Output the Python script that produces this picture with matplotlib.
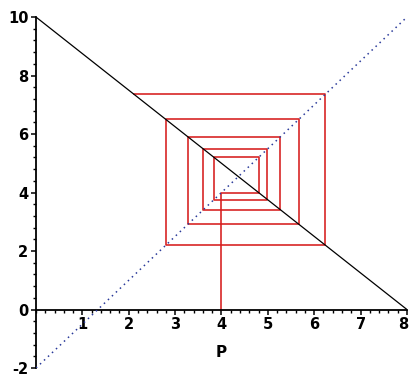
import matplotlib
matplotlib.use("Agg")
import matplotlib.pyplot as plt
import matplotlib.transforms as mtransforms
from matplotlib.ticker import MultipleLocator, FixedLocator

plt.rcParams["axes.unicode_minus"] = False

# Demand and supply lines over the price range
precio = [0, 8]
demanda = [10, 0]
oferta = [-2, 10]

# Cobweb iterations: prices and quantities at each step
precios_cw = [4.0, 4.8, 3.84, 4.992, 3.6096, 5.2685, 3.2778, 5.6666, 2.8001, 6.2399, 2.1121]
cantidades_cw = [4.0, 5.2, 3.76, 5.488, 3.4144, 5.9027, 2.9167, 6.4999, 2.2001, 7.3599]

# Build the staircase path: up to supply, across to demand, ...
xs = [precios_cw[0]]
ys = [0.0]
for i, q in enumerate(cantidades_cw):
    xs += [precios_cw[i], precios_cw[i + 1]]
    ys += [q, q]

fig = plt.figure(figsize=(4.09, 3.79), dpi=100)
ax = fig.add_axes([0.088, 0.029, 0.907, 0.926])

ax.plot(precio, demanda, color="black", lw=0.9, zorder=3)
ax.plot(precio, oferta, color="#2a3a9a", lw=1.1, linestyle=(0, (1, 2.6)), zorder=3)
ax.plot(xs, ys, color="#d82626", lw=1.2, zorder=2)

ax.set_xlim(0, 8)
ax.set_ylim(-2, 10)

# Axes crossing at the origin
ax.spines["left"].set_position(("data", 0))
ax.spines["bottom"].set_position(("data", 0))
ax.spines["top"].set_visible(False)
ax.spines["right"].set_visible(False)
for s in ("left", "bottom"):
    ax.spines[s].set_linewidth(1.3)

ax.xaxis.set_major_locator(FixedLocator([1, 2, 3, 4, 5, 6, 7, 8]))
ax.xaxis.set_minor_locator(MultipleLocator(0.2))
ax.yaxis.set_major_locator(FixedLocator([-2, 0, 2, 4, 6, 8, 10]))
ax.yaxis.set_minor_locator(MultipleLocator(0.4))
ax.tick_params(which="major", direction="out", length=3.5, width=1.1, labelsize=10.5, pad=2)
ax.tick_params(which="minor", direction="out", length=2.5, width=1.0)
for lab in ax.get_xticklabels() + ax.get_yticklabels():
    lab.set_fontweight("bold")

# keep the last x label inside the figure
fig.canvas.draw()
ultimo = ax.get_xticklabels()[-1]
ultimo.set_transform(ultimo.get_transform() + mtransforms.ScaledTranslation(-4 / 100, 0, fig.dpi_scale_trans))

ax.set_xlabel("P", fontsize=11, fontweight="bold")
ax.xaxis.set_label_coords(0.5, 0.065)

fig.savefig("out.png", dpi=100)
